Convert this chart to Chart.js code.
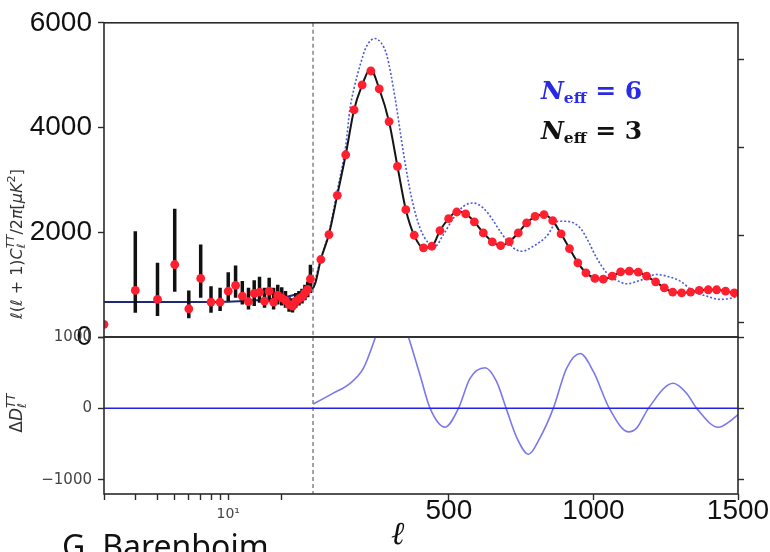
<!DOCTYPE html>
<html>
<head>
<meta charset="utf-8">
<script src="https://cdn.jsdelivr.net/npm/chart.js@4.4.0/dist/chart.umd.min.js"></script>
<style>
  body { margin: 0; background: #fff; }
  #wrap { position: relative; width: 770px; height: 552px; overflow: hidden; }
  canvas { position: absolute; left: 0; top: 0; }
  .lbl { position: absolute; white-space: nowrap; line-height: 1; }
  .ss { display: inline-flex; flex-direction: column; font-size: 0.7em; line-height: 0.95; vertical-align: middle; }
  .leg { font-family: "DejaVu Serif", serif; font-weight: bold; font-size: 25px; }
  .leg sub { font-size: 0.62em; vertical-align: -0.25em; }
  .ytitle { font-family: "DejaVu Sans", sans-serif; color: #333; transform: translate(-50%, -50%) rotate(-90deg); }
</style>
</head>
<body>
<div id="wrap">
  <canvas id="top" width="770" height="552"></canvas>
  <canvas id="bot" width="770" height="552"></canvas>

  <div class="lbl ytitle" style="left:17px; top:244px; font-size:16px;"><i>ℓ</i>(<i>ℓ</i> + 1)<i>C</i><span class="ss"><i>TT</i><i>ℓ</i></span>/2<i>π</i>[<i>μK</i><sup style="font-size:0.7em">2</sup>]</div>
  <div class="lbl ytitle" style="left:17px; top:413px; font-size:17px;">Δ<i>D</i><span class="ss"><i>TT</i><i>ℓ</i></span></div>

  <div class="lbl leg" style="left:541px; top:78px; color:#2a2ae6;"><i>N</i><sub>eff</sub> = 6</div>
  <div class="lbl leg" style="left:541px; top:118px; color:#111;"><i>N</i><sub>eff</sub> = 3</div>

  <div class="lbl" style="left:391px; top:517px; font-family:'DejaVu Serif', serif; font-style:italic; font-size:32px; color:#111;">ℓ</div>
  <div class="lbl" style="left:62px; top:530px; font-family:'Noto Sans', sans-serif; font-size:32px; color:#111;">G. Barenboim</div>
</div>

<script>
// low multipoles (unbinned), l = 2..29
const lowL  = [2, 3, 4, 5, 6, 7, 8, 9, 10, 11, 12, 13, 14, 15, 16, 17, 18, 19, 20, 21, 22, 23, 24, 25, 26, 27, 28, 29];
const lowV  = [242, 889, 718, 1384, 539, 1118, 667, 667, 876, 985, 781, 673, 832, 857, 686, 876, 667, 794, 749, 700, 620, 590, 686, 730, 768, 844, 908, 1110];
const lowLo = [242, 463, 400, 863, 356, 749, 463, 495, 686, 749, 622, 527, 590, 653, 560, 667, 527, 620, 600, 560, 480, 470, 560, 600, 640, 700, 760, 840];
const lowHi = [242, 2019, 1416, 2451, 889, 1765, 971, 940, 1238, 1365, 1067, 940, 1086, 1149, 940, 1130, 940, 1000, 950, 880, 760, 740, 840, 880, 920, 1000, 1060, 1380];

// binned high multipoles
const binL = [57, 85, 114, 143, 172, 200, 230, 259, 293, 322, 351, 380, 412, 441, 469, 499, 527, 558, 588, 619,
              650, 679, 709, 740, 769, 798, 829, 859, 888, 917, 946, 974, 1005, 1034, 1065, 1094, 1124, 1155, 1184, 1215,
              1245, 1274, 1305, 1336, 1366, 1397, 1426, 1457, 1487];
const binV = [1480, 1956, 2705, 3480, 4337, 4813, 5080, 4737, 4114, 3257, 2432, 1943, 1702, 1733, 2032, 2260, 2387, 2350, 2197, 1987,
              1816, 1746, 1820, 1987, 2178, 2305, 2337, 2222, 1968, 1689, 1416, 1225, 1118, 1105, 1162, 1244, 1257, 1238, 1162, 1054,
              940, 857, 844, 857, 889, 902, 902, 876, 844];

// theory, low-l part (both models overlap)
const lowThL = [2, 6, 10, 14, 18, 22, 26, 30];
const lowThV = [670, 670, 675, 700, 730, 780, 850, 930];

// theory N_eff = 3
const n3L = [30, 38, 57, 85, 114, 143, 172, 200, 228, 259, 293, 322, 351, 380, 412, 441, 469, 499, 530, 558, 588, 619, 650, 679,
             709, 740, 769, 798, 829, 859, 888, 917, 946, 974, 1005, 1034, 1065, 1094, 1124, 1155, 1184, 1215, 1245, 1274, 1305,
             1336, 1366, 1397, 1426, 1457, 1487, 1500];
const n3V = [930, 1030, 1480, 1960, 2710, 3480, 4340, 4810, 5120, 4740, 4110, 3260, 2430, 1940, 1700, 1730, 2030, 2260, 2400, 2350,
             2200, 1990, 1820, 1745, 1820, 1990, 2180, 2300, 2340, 2220, 1970, 1690, 1420, 1225, 1120, 1105, 1160, 1240, 1260, 1240,
             1160, 1055, 940, 860, 845, 857, 889, 902, 902, 876, 844, 825];

// theory N_eff = 6
const n6L = [30, 57, 85, 114, 143, 158, 172, 193, 215, 244, 265, 285, 314, 342, 371, 400, 429, 452, 481, 516, 550, 584, 619, 650,
             677, 723, 752, 792, 838, 878, 907, 954, 982, 1011, 1046, 1086, 1115, 1161, 1219, 1253, 1300, 1345, 1391, 1438, 1472, 1500];
const n6V = [930, 1500, 2000, 2800, 3650, 4368, 4750, 5194, 5550, 5700, 5620, 5384, 4559, 3543, 2654, 2083, 1797, 1733, 1956, 2273,
             2495, 2559, 2463, 2250, 2019, 1702, 1638, 1733, 1924, 2210, 2210, 2083, 1829, 1511, 1225, 1067, 1016, 1080, 1194, 1162,
             1067, 876, 781, 718, 737, 781];

// residual Delta D_l
const resL = [30, 37, 100, 158, 204, 244, 270, 300, 330, 360, 400, 435, 487, 533, 573, 625, 665, 698, 735, 775, 815, 861, 907, 954,
              1000, 1055, 1121, 1150, 1190, 1276, 1322, 1357, 1432, 1472, 1500];
const resV = [60, 74, 213, 351, 560, 976, 1300, 1450, 1350, 1000, 468, 0, -264, 0, 421, 569, 375, 0, -412, -643, -412, 0, 560, 768,
              514, 0, -329, -273, 0, 352, 213, 0, -264, -181, -88];

// axes
const lRange = [2, 1500];
const lBreak = 30;
const xTicks = [10, 500, 1000, 1500];
const xTickLabels = ['10¹', '500', '1000', '1500'];
const xMinorTicks = [2, 3, 4, 5, 6, 7, 8, 9, 20];
const topYTicks = [0, 2000, 4000, 6000];
const resYTicks = [-1000, 0, 1000];

const pts = (xs, ys) => xs.map((x, i) => ({ x: x, y: ys[i] }));

// log below the break, linear above it
class HybridScale extends Chart.Scale {
  determineDataLimits() {
    this.min = this.options.min;
    this.max = this.options.max;
  }
  buildTicks() {
    return xMinorTicks.concat(xTicks).map(v => ({ value: v }));
  }
  getLabelForValue(v) { return String(v); }
  toDecimal(v) {
    const f = this.options.breakFrac;
    if (v <= lBreak) return f * (Math.log(v) - Math.log(this.min)) / (Math.log(lBreak) - Math.log(this.min));
    return f + (1 - f) * (v - lBreak) / (this.max - lBreak);
  }
  getPixelForValue(v) { return this.getPixelForDecimal(this.toDecimal(v)); }
  getValueForPixel(p) {
    const d = this.getDecimalForPixel(p), f = this.options.breakFrac;
    if (d <= f) return Math.exp(Math.log(this.min) + d / f * (Math.log(lBreak) - Math.log(this.min)));
    return lBreak + (d - f) / (1 - f) * (this.max - lBreak);
  }
}
HybridScale.id = 'hybrid';
HybridScale.defaults = {};
Chart.register(HybridScale);

const frame = {
  id: 'frame',
  beforeDatasetsDraw(chart) {
    const { ctx, chartArea: a } = chart;
    const px = chart.scales.x.getPixelForValue(lBreak);
    ctx.save();
    ctx.strokeStyle = '#666';
    ctx.lineWidth = 1.2;
    ctx.setLineDash([4, 3]);
    ctx.beginPath();
    ctx.moveTo(px, a.top);
    ctx.lineTo(px, a.bottom);
    ctx.stroke();
    ctx.restore();
  },
  afterDraw(chart) {
    const { ctx, chartArea: a } = chart;
    ctx.save();
    ctx.strokeStyle = '#2a2a2a';
    ctx.lineWidth = 1.6;
    ctx.strokeRect(a.left, a.top, a.width, a.height);
    ctx.restore();
  }
};

const errorBars = {
  id: 'errorBars',
  beforeDatasetDraw(chart, args) {
    const ds = chart.data.datasets[args.index];
    if (!ds.errLo) return;
    const { ctx, chartArea: a } = chart;
    const x = chart.scales.x, y = chart.scales.y;
    ctx.save();
    ctx.beginPath();
    ctx.rect(a.left, a.top, a.width, a.height);
    ctx.clip();
    ctx.strokeStyle = '#111';
    ctx.lineWidth = 3.5;
    ds.data.forEach((p, i) => {
      const xp = x.getPixelForValue(p.x);
      ctx.beginPath();
      ctx.moveTo(xp, y.getPixelForValue(ds.errLo[i]));
      ctx.lineTo(xp, y.getPixelForValue(ds.errHi[i]));
      ctx.stroke();
    });
    ctx.restore();
  }
};

const bigFont = { family: "'Liberation Sans', Arial, sans-serif", size: 28 };
const smallFont = { family: "'DejaVu Sans', sans-serif", size: 15 };
const tenFont = { family: "'DejaVu Sans', sans-serif", size: 14, lineHeight: 2.86 };
const tickGrid = { drawOnChartArea: false, drawTicks: true, tickLength: 6, tickColor: '#2a2a2a', tickWidth: 1.4 };

function xScale(showLabels) {
  return {
    type: 'hybrid',
    display: showLabels,
    min: lRange[0],
    max: lRange[1],
    breakFrac: 0.3297,
    border: { display: false },
    grid: tickGrid,
    ticks: {
      autoSkip: false,
      maxRotation: 0,
      padding: -6,
      callback: v => { const k = xTicks.indexOf(v); return k >= 0 ? xTickLabels[k] : ''; },
      font: c => (c.tick && c.tick.value === 10 ? tenFont : bigFont),
      color: c => (c.tick && c.tick.value === 10 ? '#444' : '#111')
    },
    afterFit: s => { s.height = showLabels ? 58 : 0; }
  };
}

const base = {
  responsive: false,
  animation: false,
  events: [],
  plugins: { legend: { display: false }, tooltip: { enabled: false } }
};

new Chart(document.getElementById('top'), {
  type: 'scatter',
  data: {
    datasets: [
      { data: pts(binL, binV), pointRadius: 4.4, pointBackgroundColor: '#ff1f2e', pointBorderWidth: 0, showLine: false, order: 0 },
      { data: pts(lowL, lowV), errLo: lowLo, errHi: lowHi, pointRadius: 4.4, pointBackgroundColor: '#ff1f2e',
        pointBorderWidth: 0, showLine: false, clip: 0, order: 0 },
      { data: pts(n3L, n3V), showLine: true, borderColor: '#151515', borderWidth: 2, pointRadius: 0,
        cubicInterpolationMode: 'monotone', order: 2 },
      { data: pts(n6L, n6V), showLine: true, borderColor: '#4a5ad8', borderWidth: 1.6, borderDash: [2, 2], pointRadius: 0,
        cubicInterpolationMode: 'monotone', order: 3 },
      { data: pts(lowThL, lowThV), showLine: true, borderColor: '#1c2878', borderWidth: 2, pointRadius: 0,
        cubicInterpolationMode: 'monotone', order: 1 }
    ]
  },
  options: Object.assign({}, base, {
    layout: { autoPadding: false, padding: { left: 0, right: 0, top: 22, bottom: 215 } },
    scales: {
      x: xScale(false),
      y: {
        min: 0, max: 6000,
        border: { display: false },
        grid: tickGrid,
        afterBuildTicks: s => { s.ticks = topYTicks.map(v => ({ value: v })); },
        ticks: { font: bigFont, color: '#111', padding: 6, callback: v => String(v) },
        afterFit: s => { s.width = 104; }
      },
      yR: {
        position: 'right',
        min: -0.16, max: 3.42,
        border: { display: false },
        grid: tickGrid,
        afterBuildTicks: s => { s.ticks = [0, 1, 2, 3].map(v => ({ value: v })); },
        ticks: { display: false },
        afterFit: s => { s.width = 32; }
      }
    }
  }),
  plugins: [frame, errorBars]
});

new Chart(document.getElementById('bot'), {
  type: 'scatter',
  data: {
    datasets: [
      { data: pts(lRange, [0, 0]), showLine: true, borderColor: '#2323e8', borderWidth: 1.5, pointRadius: 0 },
      { data: pts(resL, resV), showLine: true, borderColor: '#7a78ec', borderWidth: 1.6, pointRadius: 0,
        cubicInterpolationMode: 'monotone' }
    ]
  },
  options: Object.assign({}, base, {
    layout: { autoPadding: false, padding: { left: 0, right: 0, top: 337, bottom: 0 } },
    scales: {
      x: xScale(true),
      y: {
        min: -1200, max: 1000,
        border: { display: false },
        grid: tickGrid,
        afterBuildTicks: s => { s.ticks = resYTicks.map(v => ({ value: v })); },
        ticks: { font: smallFont, color: '#444', padding: 6,
                 callback: v => (v < 0 ? '\u2212' + Math.abs(v) : String(v)) },
        afterFit: s => { s.width = 104; }
      },
      yR: {
        position: 'right',
        min: -1200, max: 1000,
        border: { display: false },
        grid: tickGrid,
        afterBuildTicks: s => { s.ticks = resYTicks.map(v => ({ value: v })); },
        ticks: { display: false },
        afterFit: s => { s.width = 32; }
      }
    }
  }),
  plugins: [frame]
});
</script>
</body>
</html>
